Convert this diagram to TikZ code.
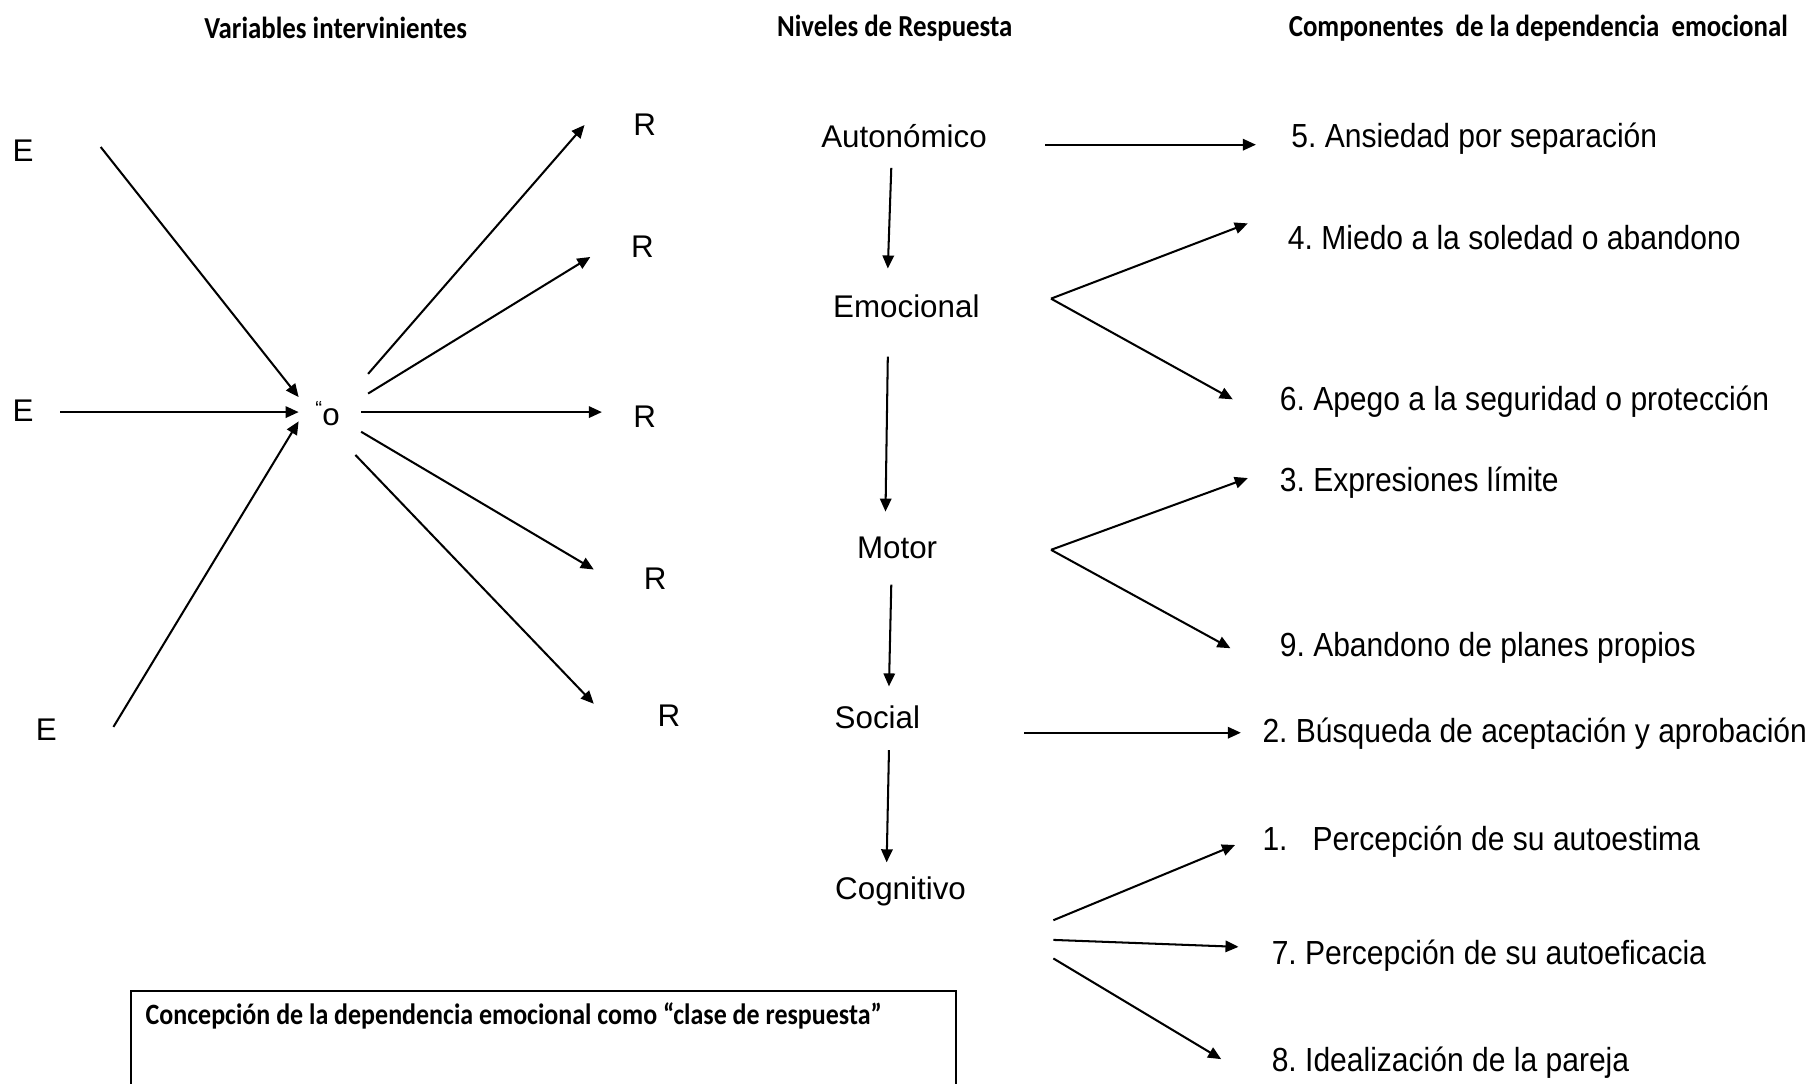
\documentclass[tikz,border=0pt]{standalone}
\usepackage{fontspec}
\setmainfont{Liberation Sans}
\newfontfamily\narrowfont[FakeStretch=0.9]{Liberation Sans}
\newfontfamily\headfont[FakeStretch=0.88]{Carlito}
\usetikzlibrary{arrows.meta, positioning}
\frenchspacing

\begin{document}
\begin{tikzpicture}[x=0.01cm, y=-0.01cm,
  head/.style ={font=\headfont\bfseries\fontsize{7.5}{9}\selectfont},
  lvl/.style  ={font=\fontsize{7.7}{9}\selectfont, inner sep=1pt},
  comp/.style ={anchor=west, inner sep=0pt,
                font=\narrowfont\fontsize{8.2}{10}\selectfont},
  arr/.style  ={-{Triangle[length=3.2pt, width=2.8pt]}, line width=0.5pt},
]
\useasboundingbox (0,0) rectangle (1568,936);

\node[head] (hvar)  at (290,24)  {Variables intervinientes};
\node[head] (hniv)  at (773,24)  {Niveles de Respuesta};
\node[head] (hcomp) at (1329,24) {Componentes\ \ de la dependencia\ \ emocional};

\node[lvl] (e1) at (20,130) {E};
\node[lvl] (e2) at (20,355) {E};
\node[lvl] (e3) at (40,630) {E};
\node[lvl] (org) at (283,357) {\raisebox{0.6ex}{\tiny “}o};
\node[lvl] (r1) at (557,108) {R};
\node[lvl] (r2) at (555,213) {R};
\node[lvl] (r3) at (557,360) {R};
\node[lvl] (r4) at (566,500) {R};
\node[lvl] (r5) at (578,618) {R};

\coordinate (e1a) at (87,127);   \coordinate (e1b) at (258,343);
\coordinate (e2a) at (52,356);   \coordinate (e2b) at (258,356);
\coordinate (e3a) at (98,628);   \coordinate (e3b) at (258,364);
\coordinate (o1) at (318,323);   \coordinate (r1b) at (505,108);
\coordinate (o2) at (318,340);   \coordinate (r2b) at (510,222);
\coordinate (o3) at (312,356);   \coordinate (r3b) at (520,356);
\coordinate (o4) at (312,373);   \coordinate (r4b) at (513,492);
\coordinate (o5) at (307,393);   \coordinate (r5b) at (513,608);

\draw[arr] (e1a) -- (e1b);
\draw[arr] (e2a) -- (e2b);
\draw[arr] (e3a) -- (e3b);
\draw[arr] (o1) -- (r1b);
\draw[arr] (o2) -- (r2b);
\draw[arr] (o3) -- (r3b);
\draw[arr] (o4) -- (r4b);
\draw[arr] (o5) -- (r5b);

\node[lvl] (auto) at (781,118) {Autonómico};
\node[lvl] (emo)  at (783,265) {Emocional};
\node[lvl] (mot)  at (775,473) {Motor};
\node[lvl] (soc)  at (758,620) {Social};
\node[lvl] (cog)  at (778,770) {Cognitivo};

\coordinate (v1a) at (770,145); \coordinate (v1b) at (767,232);
\coordinate (v2a) at (767,308); \coordinate (v2b) at (765,442);
\coordinate (v3a) at (770,505); \coordinate (v3b) at (768,593);
\coordinate (v4a) at (768,648); \coordinate (v4b) at (766,745);

\draw[arr] (v1a) -- (v1b);
\draw[arr] (v2a) -- (v2b);
\draw[arr] (v3a) -- (v3b);
\draw[arr] (v4a) -- (v4b);

\node[comp] (c5) at (1115,120) {5. Ansiedad por separación};
\node[comp] (c4) at (1112,205) {4. Miedo a la soledad o abandono};
\node[comp] (c6) at (1105,347) {6. Apego a la seguridad o protección};
\node[comp] (c3) at (1105,417) {3. Expresiones límite};
\node[comp] (c9) at (1105,560) {9. Abandono de planes propios};
\node[comp] (c2) at (1090,634) {2. Búsqueda de aceptación y aprobación};
\node[comp] (c1) at (1090,727) {1.\hspace{0.75em}Percepción de su autoestima};
\node[comp] (c7) at (1098,826) {7. Percepción de su autoeficacia};
\node[comp] (c8) at (1098,918) {8. Idealización de la pareja};

\coordinate (autoR) at (903,125);  \coordinate (c5L) at (1085,125);
\coordinate (emoR)  at (908,258);  \coordinate (c4L) at (1078,193);
                                   \coordinate (c6L) at (1065,345);
\coordinate (motR)  at (908,475);  \coordinate (c3L) at (1078,413);
                                   \coordinate (c9L) at (1063,560);
\coordinate (socR)  at (885,633);  \coordinate (c2L) at (1072,633);
\coordinate (cog1)  at (910,795);  \coordinate (c1L) at (1067,730);
\coordinate (cog2)  at (910,812);  \coordinate (c7L) at (1070,818);
\coordinate (cog3)  at (910,828);  \coordinate (c8L) at (1055,915);

\draw[arr] (autoR) -- (c5L);
\draw[arr] (emoR) -- (c4L);
\draw[arr] (emoR) -- (c6L);
\draw[arr] (motR) -- (c3L);
\draw[arr] (motR) -- (c9L);
\draw[arr] (socR) -- (c2L);
\draw[arr] (cog1) -- (c1L);
\draw[arr] (cog2) -- (c7L);
\draw[arr] (cog3) -- (c8L);

\node[draw, line width=0.5pt, anchor=north west, text width=6.87cm,
      align=flush left, inner xsep=0.13cm, inner ysep=0.1cm, text depth=1.2cm,
      font=\headfont\bfseries\fontsize{7.25}{9}\selectfont]
  (concept) at (112,855) {Concepción de la dependencia emocional como “clase de respuesta”};
\end{tikzpicture}
\end{document}
